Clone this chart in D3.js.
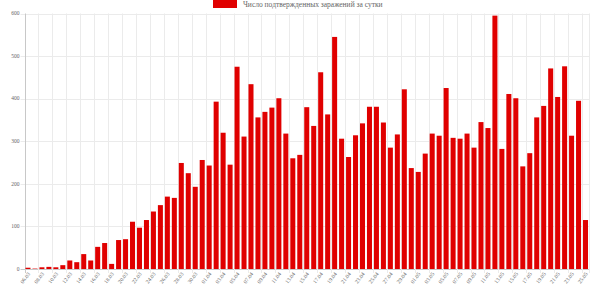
<!DOCTYPE html>
<html><head><meta charset="utf-8">
<script src="https://cdn.jsdelivr.net/npm/d3@7/dist/d3.min.js"></script>
<style>html,body{margin:0;padding:0;background:#fff;}svg{display:block;}</style>
</head><body>
<svg id="chart" width="600" height="287"></svg>
<script>
const categories = [
"06.03","07.03","08.03","09.03","10.03","11.03","12.03","13.03","14.03","15.03","16.03","17.03","18.03","19.03","20.03","21.03","22.03","23.03","24.03","25.03","26.03","27.03","28.03","29.03","30.03","31.03",
"01.04","02.04","03.04","04.04","05.04","06.04","07.04","08.04","09.04","10.04","11.04","12.04","13.04","14.04","15.04","16.04","17.04","18.04","19.04","20.04","21.04","22.04","23.04","24.04","25.04","26.04","27.04","28.04","29.04","30.04",
"01.05","02.05","03.05","04.05","05.05","06.05","07.05","08.05","09.05","10.05","11.05","12.05","13.05","14.05","15.05","16.05","17.05","18.05","19.05","20.05","21.05","22.05","23.05","24.05","25.05"];
const values = [3,1,4,5,4,9,20,16,35,20,
52,61,12,68,70,111,97,115,135,150,
170,167,249,225,193,256,243,393,320,245,
475,311,434,356,369,379,401,318,260,268,
380,336,462,363,545,306,263,314,342,381,
381,344,285,316,422,237,228,271,318,313,
425,308,306,318,285,345,331,595,282,411,
401,241,272,356,383,471,404,476,313,395,
115];
const seriesName = "Число подтвержденных заражений за сутки";
const yTicks = [0,100,200,300,400,500,600];

const svg = d3.select("#chart");
const pLeft = 24.5, pRight = 589, pTop = 13.5, pBottom = 269;
const x = d3.scaleBand().domain(categories).range([pLeft, pRight]).paddingInner(0.28).paddingOuter(0.14);
const xc = d3.scaleBand().domain(categories).range([pLeft, pRight]);
const y = d3.scaleLinear().domain([0, 600]).range([pBottom, pTop]);
const font = "'Liberation Serif', serif";

// horizontal grid
svg.append("g").selectAll("line").data(yTicks).join("line")
  .attr("x1", pLeft - 4).attr("x2", pRight + 1)
  .attr("y1", d => Math.round(y(d)) + 0.5).attr("y2", d => Math.round(y(d)) + 0.5)
  .attr("stroke", d => d === 0 ? "#c8c8c8" : "#ebebeb").attr("stroke-width", 1);

// vertical grid at displayed ticks
const shown = categories.filter((c, i) => i % 2 === 0);
svg.append("g").selectAll("line").data(shown).join("line")
  .attr("x1", d => Math.round(xc(d)) + 0.5).attr("x2", d => Math.round(xc(d)) + 0.5)
  .attr("y1", pTop).attr("y2", pBottom + 4)
  .attr("stroke", (d, i) => i === 0 ? "#c8c8c8" : "#ebebeb");
svg.append("line").attr("x1", pRight + 0.5).attr("x2", pRight + 0.5)
  .attr("y1", pTop).attr("y2", pBottom + 4).attr("stroke", "#ebebeb");

// bars
svg.append("g").selectAll("rect").data(values).join("rect")
  .attr("x", (d, i) => x(categories[i]))
  .attr("width", x.bandwidth())
  .attr("y", d => y(d))
  .attr("height", d => y(0) - y(d))
  .attr("fill", "#e00000");

// y labels
svg.append("g").selectAll("text").data(yTicks).join("text")
  .attr("x", 19.5).attr("y", d => y(d) + 1.8)
  .attr("text-anchor", "end").attr("font-family", font).attr("font-size", 5.5)
  .attr("fill", "#666").text(d => d);

// x labels
svg.append("g").selectAll("text").data(shown).join("text")
  .attr("transform", d => `translate(${xc(d) + xc.bandwidth()/2 + 1},${pBottom + 4}) rotate(-52)`)
  .attr("text-anchor", "end").attr("font-family", font).attr("font-size", 5.5)
  .attr("dy", "0.35em")
  .attr("fill", "#666").text(d => d);

// legend
svg.append("rect").attr("x", 213).attr("y", 0).attr("width", 24).attr("height", 8).attr("fill", "#e00000");
svg.append("text").attr("x", 243).attr("y", 7).attr("font-family", font).attr("font-size", 7.5)
  .attr("fill", "#666").text(seriesName);
</script>
</body></html>
